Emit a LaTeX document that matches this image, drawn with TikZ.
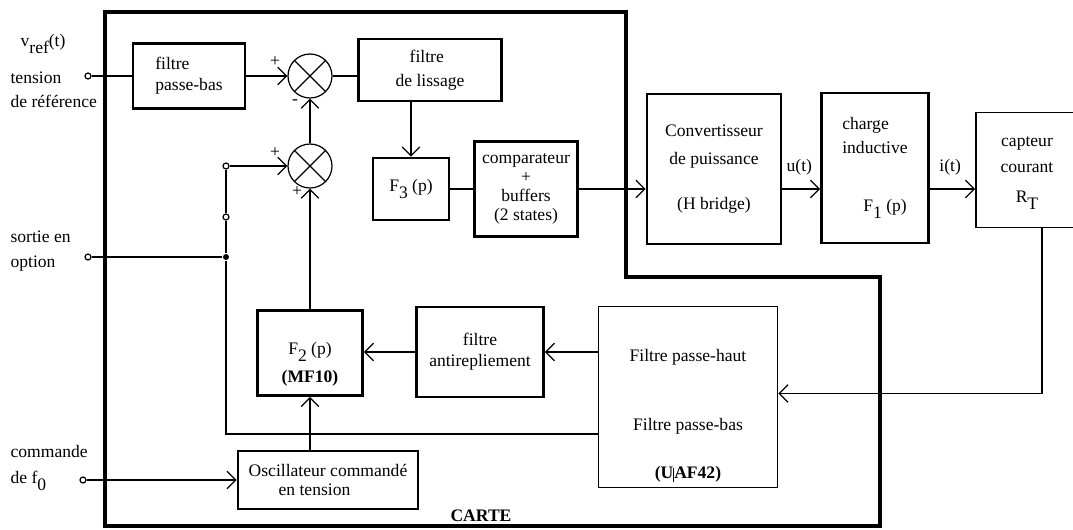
\documentclass[tikz,border=0pt]{standalone}
\usepackage{fontspec}
\setmainfont{Liberation Serif}
\usetikzlibrary{arrows.meta,calc}
\newcommand{\bas}[1]{\raisebox{-4pt}{#1}}

\begin{document}
\begin{tikzpicture}[x=0.02cm,y=-0.02cm,line width=0.7pt,
    bloc/.style={draw, rectangle, line width=1.6pt, align=center, inner sep=2pt},
    somme/.style={draw, circle, minimum size=0.88cm, inner sep=0pt,
        path picture={\draw (path picture bounding box.north west) -- (path picture bounding box.south east)
            (path picture bounding box.north east) -- (path picture bounding box.south west);}},
    borne/.style={draw, circle, fill=white, inner sep=0pt, minimum size=0.12cm},
    fleche/.style={-{Straight Barb[length=5pt,width=10pt]}},
    legende/.style={anchor=west, inner sep=0pt, align=left},
    signe/.style={inner sep=0pt}]
        \useasboundingbox (0,0) rectangle (1073,529);

        % Carte
        \draw[line width=2.8pt] (105,12) -- (626,12) -- (626,277) -- (880,277) -- (880,526) -- (105,526) -- cycle;
        \node[font=\bfseries] (carte) at (481,516) {CARTE};

        % Entrees
        \node[legende] (lvref) at (20,44) {v\raisebox{-4.5pt}{ref}(t)};
        \node[legende] (ltension) at (10,90) {tension\\[1.6pt]de référence};
        \node[legende] (lsortie) at (10,251) {sortie en\\[2.7pt]option};
        \node[legende] (lcmd) at (10,468) {commande\\[3.3pt]de f\bas{0}};
        \node[borne] (e1) at (88,76) {};
        \node[borne] (e2) at (88,257) {};
        \node[borne] (e3) at (83,480) {};

        % Chaine directe
        \node[bloc, minimum width=2.24cm, minimum height=1.30cm, align=left] (fpb) at (189,76) {filtre\\passe-bas};
        \node[somme] (s1) at (310,76) {};
        \node[somme] (s2) at (310,166) {};
        \node[bloc, minimum width=2.86cm, minimum height=1.24cm, align=left] (lis) at (430,70) {\hspace{8pt}filtre\\[1.6pt]de lissage};
        \node[bloc, minimum width=1.52cm, minimum height=1.24cm] (F3) at (411,189) {F\bas{3} (p)};
        \node[bloc, minimum width=2.06cm, minimum height=1.90cm, font=\fontsize{10}{10.8}\selectfont] (comp) at (526,189) {comparateur\\+\\buffers\\(2 states)};
        \node[bloc, minimum width=2.68cm, minimum height=3.00cm] (conv) at (714,169) {Convertisseur\\[4.4pt]de puissance\\[13.5pt](H bridge)};
        \node[bloc, minimum width=2.14cm, minimum height=3.00cm, align=left] (charge) at (875,168) {charge\\[1.6pt]inductive\\[21pt]\hspace{1.2em}F\bas{1} (p)};
        \node[bloc, line width=1.1pt, minimum width=2.60cm, minimum height=2.30cm] (capt) at (1041,170) {};
        \node[align=center] (capttxt) at (1027,173) {capteur\\[2.7pt]courant\\[5pt]R\bas{T}};

        % Retour
        \node[bloc, line width=1.1pt, minimum width=3.58cm, minimum height=3.62cm] (uaf) at (688,397) {\rule{0pt}{28pt}Filtre passe-haut\\[27.7pt]Filtre passe-bas\\[15pt]\textbf{(U\rule[-2pt]{0.5pt}{8pt}AF42)}};
        \node[bloc, minimum width=2.54cm, minimum height=1.80cm] (anti) at (480,352) {filtre\\antirepliement};
        \node[bloc, minimum width=2.10cm, minimum height=1.70cm] (F2) at (310,353) {\rule{0pt}{20pt}F\bas{2} (p)\\[4pt]\textbf{(MF10)}};
        \node[bloc, minimum width=3.60cm, minimum height=1.16cm, align=left] (osc) at (328,480) {Oscillateur commandé\\[-1pt]\hspace{1.7em}en tension};

        % Points de liaison
        \node[borne] (o2) at (226,217) {};
        \node[borne] (o3) at (226,166) {};
        \node[fill, circle, inner sep=0pt, minimum size=0.12cm] (jct) at (226,257) {};

        % Signes des comparateurs
        \node[signe] (p1) at (275,62) {+};
        \node[signe] (m1) at (295,102) {-};
        \node[signe] (p2) at (275,153) {+};
        \node[signe] (p3) at (297,192) {+};

        % Liaisons
        \draw (e1) -- (fpb);
        \draw[fleche] (fpb) -- (s1);
        \draw (s1) -- (lis.west |- s1);
        \draw[fleche] (lis.south -| F3) -- (F3);
        \draw (F3) -- (F3 -| comp.west);
        \draw[fleche] (comp) -- (comp -| conv.west);
        \draw[fleche] (conv.east |- comp) -- (comp -| charge.west) node[pos=0.45, above=4pt] (lu) {u(t)};
        \draw[fleche] (charge.east |- comp) -- (comp -| capt.west) node[pos=0.45, above=4pt] (li) {i(t)};
        \draw[fleche] ([xshift=0.02cm]capt.south) |- ([yshift=0.07cm]uaf.east);
        \draw[fleche] (uaf.west |- anti) -- (anti);
        \draw[fleche] (anti) -- (anti -| F2.east);
        \draw[fleche] (F2) -- (s2);
        \draw[fleche] (s2) -- (s1);
        \draw[fleche] (osc.north -| F2) -- (F2);
        \draw[fleche] (e3) -- (osc);
        \draw (e2) -- (jct);
        \draw ([yshift=-0.74cm]uaf.west) -| (jct);
        \draw (jct) -- (o2) -- (o3);
        \draw[fleche] (o3) -- (s2);
\end{tikzpicture}
\end{document}
